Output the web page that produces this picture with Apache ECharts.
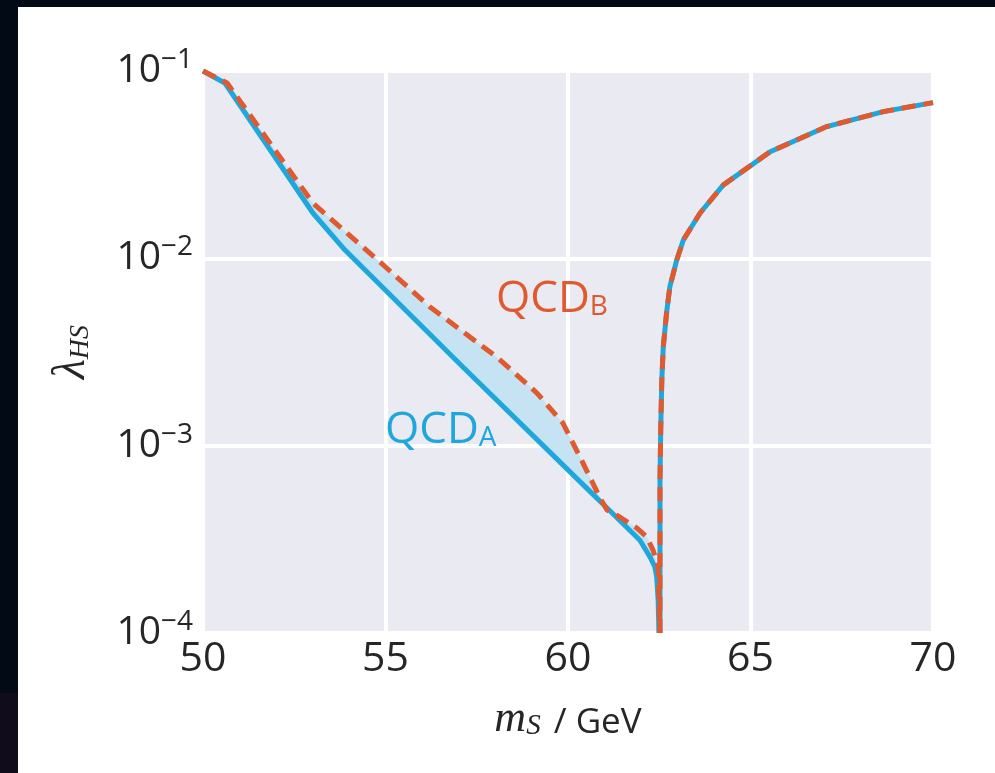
<!DOCTYPE html>
<html>
<head>
<meta charset="utf-8">
<script src="https://cdn.jsdelivr.net/npm/echarts@6/dist/echarts.min.js"></script>
<style>
  html, body { margin: 0; padding: 0; width: 995px; height: 773px; overflow: hidden; background: #010a15; }
  #strip { position: absolute; left: 0; top: 693px; width: 18px; height: 80px; background: #100c1c; }
  #chart { position: absolute; left: 18px; top: 7px; width: 977px; height: 766px; background: #ffffff; }
</style>
</head>
<body>
<div id="strip"></div>
<div id="chart"></div>
<script>
// ---- data ----
const xTicks = [50, 55, 60, 65, 70];
const yTicks = [1e-4, 1e-3, 1e-2, 1e-1];

// QCD_A (solid blue), left branch
const qcdA_left = [
  [50.00, 0.1000], [50.60, 0.0863], [53.01, 0.01746], [53.89, 0.01107],
  [57.12, 0.00263], [60.79, 0.000525], [61.07, 0.000465], [61.97, 0.000313],
  [62.25, 0.000254], [62.38, 0.000225], [62.43, 0.000199], [62.47, 0.000150],
  [62.49, 0.0001]
];
// QCD_B (dashed orange), left branch
const qcdB_left = [
  [50.00, 0.1000], [50.66, 0.0863], [53.01, 0.01972], [54.85, 0.00955],
  [56.22, 0.00550], [58.05, 0.00297], [59.15, 0.00191], [59.86, 0.00132],
  [60.33, 0.000869], [60.88, 0.000525], [61.07, 0.000453], [61.42, 0.000416],
  [61.89, 0.000363], [62.16, 0.000325], [62.33, 0.000277], [62.47, 0.000225],
  [62.52, 0.0001]
];
// right branch (identical for both)
const rightBranch = [
  [62.52, 0.0001], [62.52, 0.000655], [62.54, 0.00121], [62.57, 0.00224],
  [62.61, 0.00336], [62.70, 0.00510], [62.79, 0.00705], [62.98, 0.00980],
  [63.16, 0.01253], [63.62, 0.01746], [64.25, 0.0246], [65.54, 0.0371],
  [67.09, 0.0505], [68.64, 0.0607], [70.00, 0.0678]
];

const BLUE = '#1ea7dd';
const ORANGE = '#e05a2f';
const FILL = '#c5e3f3';
const TXT = '#262626';
const SANS = '"Open Sans", "Noto Sans", sans-serif';
const SERIF = '"Liberation Serif", "DejaVu Serif", serif';

const chart = echarts.init(document.getElementById('chart'), null, { renderer: 'canvas' });

function expLabel(v) {
  const e = Math.round(Math.log10(v));
  return '{b|10}{s|\u2212' + Math.abs(e) + '}';
}

const option = {
  animation: false,
  backgroundColor: '#ffffff',
  grid: { left: 185, top: 64, right: 62, bottom: 140, show: true, backgroundColor: '#eaeaf2', borderWidth: 0 },
  xAxis: {
    type: 'value', min: 50, max: 70, interval: 5,
    axisLine: { show: false }, axisTick: { show: false },
    splitLine: { show: true, lineStyle: { color: '#ffffff', width: 4 } },
    axisLabel: { fontSize: 41, color: TXT, fontFamily: SANS, margin: 6 },
    name: '{m|m}{sub|S}{t| / GeV}',
    nameLocation: 'middle', nameGap: 64,
    nameTextStyle: {
      rich: {
        m: { fontFamily: SERIF, fontStyle: 'italic', fontSize: 44, color: TXT, lineHeight: 44, verticalAlign: 'bottom' },
        sub: { fontFamily: SERIF, fontStyle: 'italic', fontSize: 29, color: TXT, lineHeight: 24, verticalAlign: 'bottom', padding: [0, 4, 0, 0] },
        t: { fontFamily: SANS, fontSize: 35, color: TXT, lineHeight: 44, verticalAlign: 'bottom' }
      }
    }
  },
  yAxis: {
    type: 'log', logBase: 10, min: 1e-4, max: 1e-1,
    axisLine: { show: false }, axisTick: { show: false }, minorTick: { show: false },
    splitLine: { show: true, lineStyle: { color: '#ffffff', width: 4 } },
    axisLabel: {
      margin: 10,
      formatter: expLabel,
      rich: {
        b: { fontSize: 39, fontFamily: SANS, color: TXT, lineHeight: 50 },
        s: { fontSize: 28, fontFamily: SANS, color: TXT, lineHeight: 29, verticalAlign: 'top' }
      }
    },
    name: '{l|\u03bb}{sub|HS}',
    nameLocation: 'middle', nameRotate: 90, nameGap: 108,
    nameTextStyle: {
      rich: {
        l: { fontFamily: SERIF, fontStyle: 'italic', fontSize: 46, color: TXT, lineHeight: 44, verticalAlign: 'bottom' },
        sub: { fontFamily: SERIF, fontStyle: 'italic', fontSize: 28, color: TXT, lineHeight: 28, verticalAlign: 'bottom' }
      }
    }
  },
  graphic: [
    {
      type: 'text', left: 478, top: 270, z: 10,
      style: {
        text: '{a|QCD}{b|B}',
        rich: {
          a: { fontFamily: SANS, fontSize: 44, fill: ORANGE, lineHeight: 52, verticalAlign: 'bottom' },
          b: { fontFamily: SANS, fontSize: 28, fill: ORANGE, lineHeight: 38, verticalAlign: 'bottom' }
        }
      }
    },
    {
      type: 'text', left: 367, top: 401, z: 10,
      style: {
        text: '{a|QCD}{b|A}',
        rich: {
          a: { fontFamily: SANS, fontSize: 44, fill: BLUE, lineHeight: 52, verticalAlign: 'bottom' },
          b: { fontFamily: SANS, fontSize: 28, fill: BLUE, lineHeight: 38, verticalAlign: 'bottom' }
        }
      }
    }
  ],
  series: [
    {
      type: 'custom', coordinateSystem: 'cartesian2d', silent: true, z: 1,
      data: [[50, 0.1]],
      renderItem: function (params, api) {
        const pts = qcdB_left.map(p => api.coord(p))
          .concat(qcdA_left.slice().reverse().map(p => api.coord(p)));
        return { type: 'polygon', shape: { points: pts }, style: { fill: FILL } };
      }
    },
    {
      type: 'line', data: qcdA_left, showSymbol: false, z: 3, clip: true,
      lineStyle: { color: BLUE, width: 5 }
    },
    {
      type: 'line', data: rightBranch, showSymbol: false, z: 3, clip: true,
      lineStyle: { color: BLUE, width: 5 }
    },
    {
      type: 'line', data: qcdB_left, showSymbol: false, z: 4, clip: true,
      lineStyle: { color: ORANGE, width: 5, type: [14, 8] }
    },
    {
      type: 'line', data: rightBranch, showSymbol: false, z: 4, clip: true,
      lineStyle: { color: ORANGE, width: 5, type: [14, 8] }
    }
  ]
};
chart.setOption(option);
</script>
</body>
</html>
